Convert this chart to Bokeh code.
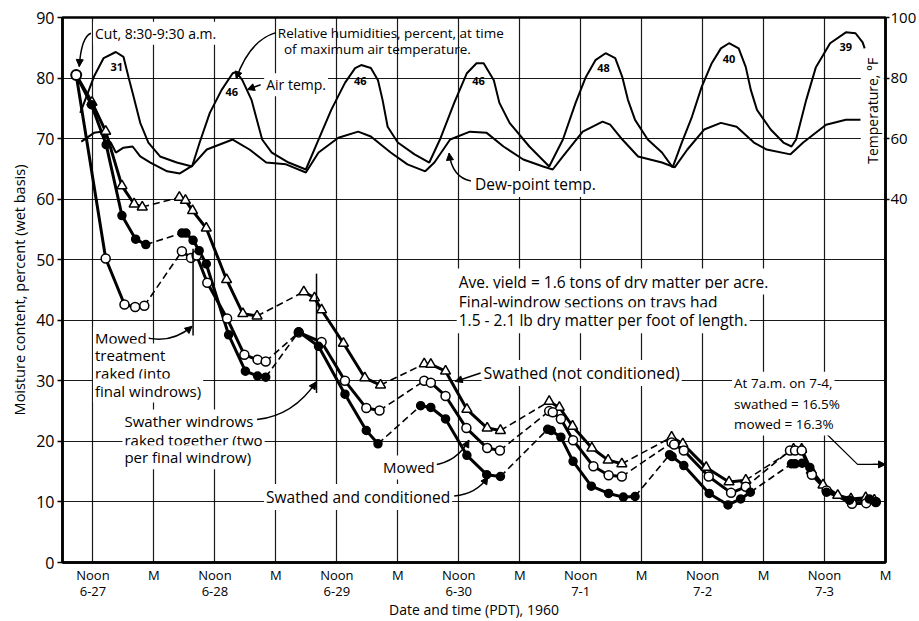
import math
from bokeh.plotting import figure
from bokeh.models import Range1d, LinearAxis, FixedTicker, Label, Arrow, NormalHead
from bokeh.core.properties import value
from bokeh.embed import file_html
from bokeh.resources import INLINE

FONT = "Open Sans"

# ---------------- data (hours counted from midnight starting 6-27) ----------------
x_ticks = [12, 24, 36, 48, 60, 72, 84, 96, 108, 120, 132, 144, 156, 168]
x_tick_labels = ["Noon", "M", "Noon", "M", "Noon", "M", "Noon",
                 "M", "Noon", "M", "Noon", "M", "Noon", "M"]
date_ticks = [12, 36, 60, 84, 108, 132, 156]
date_labels = ["6-27", "6-28", "6-29", "6-30", "7-1", "7-2", "7-3"]
moisture_ticks = [0, 10, 20, 30, 40, 50, 60, 70, 80, 90]
temp_ticks = [40, 60, 80, 100]

# Swathed (not conditioned) - open triangles; one inner list per daytime drying period
swathed_hours = [
    [8.7, 11.8, 14.5, 17.7, 20.1, 21.7],
    [29.0, 30.2, 31.6, 34.3, 38.3, 41.5, 44.3],
    [53.5, 55.6, 57.0, 61.3, 65.5, 68.6],
    [77.2, 78.5, 81.4, 85.6, 89.6, 92.2],
    [101.8, 103.8, 106.4, 110.2, 113.4, 116.1],
    [125.9, 128.1, 132.7, 137.2, 140.5],
    [149.9, 151.5, 153.4, 155.7, 158.6, 161.2, 164.1, 165.8],
]
swathed_moist = [
    [80.5, 76.0, 71.2, 62.2, 59.2, 58.7],
    [60.3, 59.8, 58.1, 55.2, 46.7, 41.1, 40.7],
    [44.7, 43.7, 41.7, 36.2, 30.5, 29.3],
    [32.8, 32.7, 31.6, 25.3, 22.2, 21.8],
    [26.6, 25.6, 22.5, 18.9, 16.9, 16.3],
    [20.7, 19.6, 15.7, 13.3, 13.6],
    [18.7, 18.7, 15.2, 12.8, 11.1, 10.5, 10.7, 10.3],
]

# Mowed - open circles
mowed_hours = [
    [8.7, 14.5, 18.2, 20.3, 22.1],
    [29.5, 31.3, 32.4, 34.5, 38.4, 41.8, 44.4, 46.0],
    [52.5, 57.0, 61.6, 65.8, 68.4],
    [77.2, 78.5, 81.4, 85.5, 89.6, 92.1],
    [101.8, 102.5, 104.1, 106.5, 110.5, 113.5, 116.1],
    [125.9, 126.4, 128.3, 133.2, 137.6, 140.5],
    [149.2, 150.2, 151.5, 153.5, 156.4, 161.4, 164.2, 166.1],
]
mowed_moist = [
    [80.5, 50.2, 42.6, 42.2, 42.4],
    [51.4, 50.3, 50.7, 46.2, 40.3, 34.3, 33.5, 33.2],
    [38.0, 36.4, 30.0, 25.5, 25.1],
    [30.0, 29.7, 27.5, 22.2, 18.9, 18.5],
    [25.0, 24.8, 23.7, 20.2, 15.9, 14.4, 14.2],
    [19.8, 19.5, 18.5, 14.2, 11.5, 12.5],
    [18.5, 18.5, 18.5, 14.5, 11.9, 9.7, 9.8, 10.0],
]

# Swathed and conditioned - filled circles
conditioned_hours = [
    [8.7, 11.7, 14.6, 17.7, 20.4, 22.4],
    [29.5, 30.3, 31.7, 32.9, 34.3, 38.7, 42.0, 44.4, 46.0],
    [52.5, 56.4, 61.6, 65.8, 68.1],
    [76.5, 78.5, 81.4, 85.6, 89.5, 92.2],
    [101.5, 102.2, 104.1, 106.5, 110.1, 113.5, 116.4, 118.7],
    [125.5, 126.0, 128.3, 133.3, 137.0, 139.5, 141.4],
    [149.5, 150.2, 151.6, 153.1, 156.4, 160.9, 164.8, 166.1],
]
conditioned_moist = [
    [80.5, 75.6, 69.0, 57.3, 53.4, 52.5],
    [54.4, 54.4, 53.2, 51.5, 49.3, 37.6, 31.6, 30.8, 30.6],
    [38.1, 35.7, 27.8, 21.8, 19.6],
    [25.9, 25.6, 23.7, 17.7, 14.5, 14.2],
    [22.0, 21.8, 20.7, 16.7, 12.6, 11.4, 10.8, 10.9],
    [17.8, 17.5, 16.0, 11.4, 9.5, 10.5, 11.6],
    [16.3, 16.3, 16.4, 15.7, 11.6, 10.3, 10.5, 10.0],
]

# Air temperature, deg F
air_hours = [9.5, 12.2, 14.1, 16.5, 18.0, 19.0, 20.0, 21.3, 22.9, 25.2, 28.5, 31.5,
             33.0, 35.0, 37.3, 39.5, 40.2, 41.4, 43.2, 45.3, 47.2, 50.5, 53.9,
             56.4, 58.9, 61.6, 63.6, 64.8, 66.7, 68.1, 69.0, 70.0, 72.0, 75.3, 78.2,
             80.3, 83.1, 85.6, 87.5, 88.9, 90.9, 92.0, 94.0, 97.9, 101.8,
             104.5, 107.0, 109.0, 110.9, 112.9, 114.8, 116.2, 117.3, 118.7, 121.2, 124.0, 126.1,
             127.9, 129.9, 131.8, 133.8, 135.6, 137.2, 139.1, 140.5, 141.5, 142.7, 145.4, 147.9, 149.5,
             150.4, 152.4, 154.3, 157.1, 160.2, 162.1, 163.5, 163.9]
air_temp = [68.5, 80.5, 86.6, 88.6, 87.0, 80.3, 73.8, 65.2, 58.7, 54.1, 52.1, 50.8,
            58.7, 68.5, 76.0, 81.6, 82.0, 79.3, 72.8, 59.7, 55.4, 52.1, 49.8,
            59.7, 69.5, 78.4, 83.3, 84.3, 83.3, 79.3, 72.8, 63.9, 58.7, 54.8, 52.1,
            59.7, 71.8, 81.6, 84.9, 84.9, 79.3, 71.8, 65.2, 57.4, 50.8,
            59.7, 71.8, 80.3, 85.9, 88.2, 86.6, 80.3, 72.8, 66.2, 59.7, 55.4, 50.5,
            58.7, 67.2, 77.0, 84.9, 89.8, 91.5, 89.8, 83.6, 76.0, 69.5, 63.0, 58.7, 57.4,
            59.7, 72.8, 83.6, 91.5, 95.1, 94.8, 91.8, 89.8]

# Dew-point temperature, deg F
dew_hours = [9.7, 12.2, 13.6, 15.5, 16.5, 18.0, 19.8, 21.3, 23.3, 26.6, 29.1, 31.5, 34.4, 39.5,
             42.8, 46.1, 50.0, 53.9, 56.4, 60.3, 64.2, 66.7, 70.6, 73.9, 77.4, 79.2, 82.3, 86.2,
             89.5, 92.8, 96.7, 100.6, 102.5, 104.5, 108.4, 112.3, 113.8, 116.2, 119.3, 124.0,
             126.5, 129.0, 132.3, 135.6, 138.7, 142.1, 144.6, 149.3, 151.8, 156.3, 160.2, 163.1]
dew_temp = [59.0, 61.9, 62.3, 58.7, 55.4, 57.0, 57.4, 54.1, 52.1, 49.2, 48.5, 51.0, 56.4, 59.7,
            56.4, 52.1, 51.5, 48.8, 55.4, 60.3, 62.3, 60.7, 55.4, 51.5, 49.2, 52.1, 59.7, 62.3,
            61.9, 57.4, 53.1, 50.8, 49.8, 54.1, 62.3, 65.6, 64.6, 59.7, 54.1, 52.1,
            50.5, 56.4, 63.0, 65.2, 63.9, 58.7, 56.4, 54.8, 58.7, 64.6, 66.2, 66.2]

# Relative humidity (%) at time of maximum air temperature
rh_labels = ["31", "46", "46", "46", "48", "40", "39"]
rh_hours = [16.7, 39.3, 64.6, 87.9, 112.5, 137.2, 160.2]
rh_temp = [83.6, 75.4, 79.0, 79.0, 83.2, 86.2, 90.2]

# ---------------- figure ----------------
p = figure(width=919, height=621, x_range=Range1d(6, 168), y_range=Range1d(0, 90),
           output_backend="svg", toolbar_location=None,
           min_border_left=62, min_border_right=26, min_border_top=17, min_border_bottom=55)
p.extra_y_ranges = {"temp": Range1d(-80, 100)}
p.background_fill_color = "white"
p.border_fill_color = "white"
p.outline_line_color = "black"
p.outline_line_width = 2.5

# axes
p.yaxis.ticker = FixedTicker(ticks=moisture_ticks)
p.yaxis.axis_label = "Moisture content, percent (wet basis)"
p.xaxis.ticker = FixedTicker(ticks=x_ticks)
p.xaxis.major_label_overrides = {t: lab for t, lab in zip(x_ticks, x_tick_labels)}

date_axis = LinearAxis(ticker=FixedTicker(ticks=date_ticks),
                       major_label_overrides={t: lab for t, lab in zip(date_ticks, date_labels)},
                       axis_label="Date and time (PDT), 1960")
p.add_layout(date_axis, "below")

right = LinearAxis(y_range_name="temp", ticker=FixedTicker(ticks=temp_ticks))
p.add_layout(right, "right")

for ax in [p.xaxis[0], p.yaxis[0], right, date_axis]:
    ax.axis_line_color = "black"
    ax.axis_line_width = 2.5
    ax.major_tick_line_color = "black"
    ax.major_tick_line_width = 1.5
    ax.major_tick_in = 0
    ax.major_tick_out = 5
    ax.minor_tick_line_color = None
    ax.major_label_text_font = FONT
    ax.major_label_text_color = "black"
    ax.axis_label_text_font = FONT
    ax.axis_label_text_font_style = "normal"
    ax.axis_label_text_color = "black"

p.yaxis.major_label_text_font_size = "16px"
p.yaxis.axis_label_text_font_size = "14.5px"
p.yaxis.major_label_standoff = 3
p.yaxis.axis_label_standoff = 4
p.xaxis[0].major_tick_out = 0
p.xaxis[0].major_label_text_font_size = "13px"
p.xaxis[0].major_label_standoff = 3
date_axis.axis_line_color = None
date_axis.major_tick_line_color = None
date_axis.major_tick_out = 0
date_axis.major_label_standoff = 0
date_axis.major_label_text_font_size = "13px"
date_axis.axis_label_text_font_size = "14px"
date_axis.axis_label_standoff = 1
right.major_label_text_font_size = "15px"
right.major_label_standoff = 1
right.major_tick_out = 4

p.xgrid.ticker = FixedTicker(ticks=x_ticks)
p.ygrid.ticker = FixedTicker(ticks=moisture_ticks)
for g in [p.xgrid[0], p.ygrid[0]]:
    g.grid_line_color = "black"
    g.grid_line_width = 1.2
    g.grid_line_alpha = 0.9

# ---------------- temperature curves ----------------
p.line(air_hours, air_temp, y_range_name="temp", line_color="black", line_width=2)
p.line(dew_hours, dew_temp, y_range_name="temp", line_color="black", line_width=2)
p.text(rh_hours, rh_temp, text=rh_labels, y_range_name="temp", text_font=value(FONT),
       text_font_size="11px", text_font_style="bold", text_align="center",
       text_baseline="middle", text_color="black")

# ---------------- moisture curves ----------------
series = [
    (swathed_hours, swathed_moist, "triangle", "white", 10),
    (mowed_hours, mowed_moist, "circle", "white", 9),
    (conditioned_hours, conditioned_moist, "circle", "black", 8),
]
for hours, moist, marker, fill, size in series:
    for i in range(len(hours)):
        p.line(hours[i], moist[i], line_color="black", line_width=3)
        if i + 1 < len(hours):
            p.line([hours[i][-1], hours[i + 1][0]], [moist[i][-1], moist[i + 1][0]],
                   line_color="black", line_width=1.6, line_dash="7 4")
for hours, moist, marker, fill, size in series:
    for i in range(len(hours)):
        hs = hours[i][1:] if i == 0 else hours[i]
        ms = moist[i][1:] if i == 0 else moist[i]
        p.scatter(hs, ms, marker=marker, size=size, fill_color=fill,
                  line_color="black", line_width=1.5)
# common starting point (cut)
p.scatter([mowed_hours[0][0]], [mowed_moist[0][0]], marker="circle", size=10,
          fill_color="white", line_color="black", line_width=2)

# raking events
p.line([31.7, 31.7], [37.5, 51.8], line_color="black", line_width=1.5)
p.line([56.0, 56.0], [28.0, 47.7], line_color="black", line_width=1.5)

# ---------------- leaders ----------------
curves = [  # x0, y0, cx, cy, x1, y1
    (11.6, 87.4, 9.7, 86.8, 9.3, 81.9),
    (48.0, 87.5, 42.8, 86.2, 40.2, 79.9),
    (86.4, 63.0, 82.7, 63.6, 82.1, 67.6),
    (21.3, 37.4, 27.0, 35.8, 31.5, 39.0),
    (44.3, 23.6, 51.5, 24.3, 55.9, 29.8),
    (79.0, 16.1, 83.7, 16.6, 86.0, 20.2),
    (83.1, 11.0, 87.5, 11.3, 89.7, 14.1),
]
p.quadratic(x0=[c[0] for c in curves], y0=[c[1] for c in curves],
            cx=[c[2] for c in curves], cy=[c[3] for c in curves],
            x1=[c[4] for c in curves], y1=[c[5] for c in curves],
            line_color="black", line_width=1.5)
for c in curves:
    dx, dy = c[4] - c[2], c[5] - c[3]
    L = math.hypot(dx / 5.0, dy)
    p.add_layout(Arrow(end=NormalHead(size=7, fill_color="black", line_color="black"),
                       x_start=c[4] - dx / L * 0.6, y_start=c[5] - dy / L * 0.6,
                       x_end=c[4], y_end=c[5], line_width=1.0, line_color="black"))
# short straight arrows
p.add_layout(Arrow(end=NormalHead(size=7, fill_color="black"), x_start=45.0, y_start=78.9,
                   x_end=42.4, y_end=78.1, line_width=1.5))
p.add_layout(Arrow(end=NormalHead(size=7, fill_color="black"), x_start=88.3, y_start=31.3,
                   x_end=83.3, y_end=29.9, line_width=1.5))
# 7-4 reading leader
p.line([155.7, 162.5, 166.5], [21.8, 16.2, 16.2], line_color="black", line_width=1.2)
p.add_layout(Arrow(end=NormalHead(size=7, fill_color="black"), x_start=165.5, y_start=16.2,
                   x_end=168.0, y_end=16.2, line_width=1.2))


# ---------------- annotations ----------------
def note(x, y, text, align="left", size="15px", angle=0.0, bg=True):
    p.add_layout(Label(x=x, y=y, text=text, text_align=align, text_baseline="middle",
                       text_font=FONT, text_font_size=size, text_color="black", angle=angle,
                       background_fill_color="white" if bg else None, padding=2))


note(12.0, 87.4, "Cut, 8:30-9:30 a.m.", size="14px")
note(48.0, 87.4, "Relative humidities, percent, at time", size="13.5px", bg=False)
note(49.2, 84.8, "of maximum air temperature.", size="13.5px", bg=False)
note(45.7, 78.9, "Air temp.", size="14px")
note(86.8, 62.5, "Dew-point temp.", size="15.5px")
note(83.6, 46.4, "Ave. yield = 1.6 tons of dry matter per acre.", size="15.5px")
note(83.6, 43.1, "Final-windrow sections on trays had", size="15.5px")
note(83.6, 40.0, "1.5 - 2.1 lb dry matter per foot of length.", size="15.5px")
note(88.5, 31.3, "Swathed (not conditioned)", size="16px")
note(137.8, 29.7, "At 7a.m. on 7-4,", size="13.5px")
note(137.8, 26.1, "swathed = 16.5%", size="13.5px")
note(137.8, 22.8, "mowed = 16.3%", size="13.5px")
note(68.7, 15.7, "Mowed", size="15px")
note(82.7, 10.8, "Swathed and conditioned", align="right", size="15.5px")
note(12.0, 37.0, "Mowed", size="15px")
note(12.0, 34.2, "treatment", size="15px")
note(12.0, 31.3, "raked (into", size="15px")
note(12.0, 28.4, "final windrows)", size="15px")
note(17.8, 23.3, "Swather windrows", size="15px")
note(17.8, 20.3, "raked together (two", size="15px")
note(17.8, 17.4, "per final windrow)", size="15px")
note(165.4, 74.6, "Temperature, °F", align="center", size="14px", angle=math.pi / 2)

open("out.html", "w").write(file_html(p, INLINE))
